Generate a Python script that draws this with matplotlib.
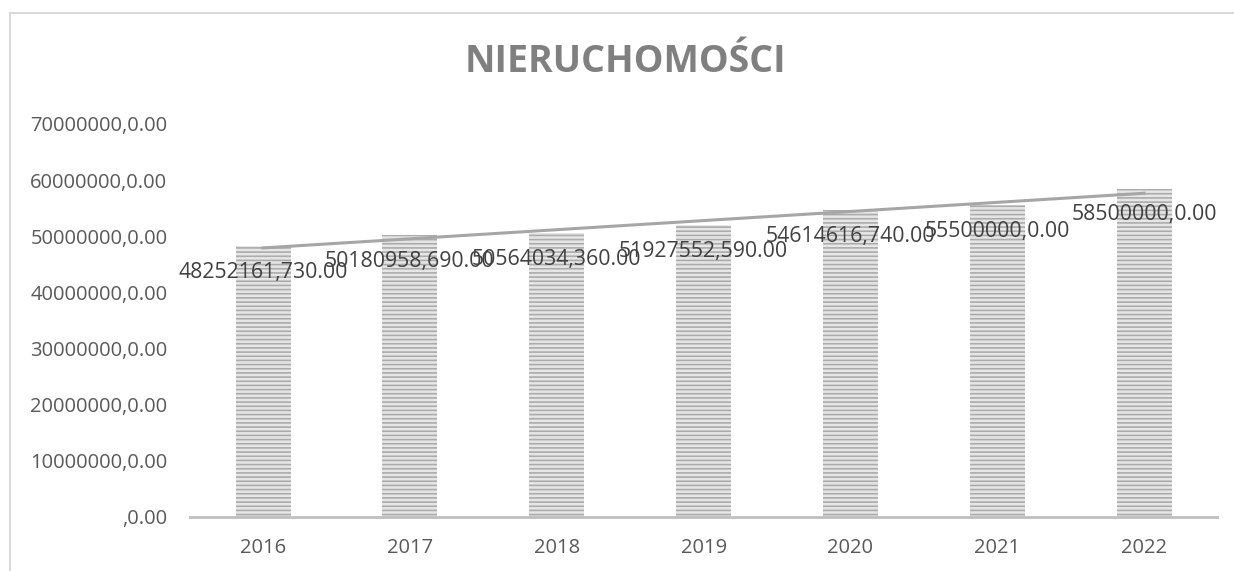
import matplotlib.pyplot as plt
import numpy as np
from matplotlib.patches import Rectangle

plt.rcParams['font.family'] = ['Open Sans', 'DejaVu Sans']
plt.rcParams['hatch.linewidth'] = 1.2

# data
years = ['2016', '2017', '2018', '2019', '2020', '2021', '2022']
values = [48252161.73, 50180958.69, 50564034.36, 51927552.59,
          54614616.74, 55500000.00, 58500000.00]
bar_labels = ['48252161,730.00', '50180958,690.00', '50564034,360.00',
              '51927552,590.00', '54614616,740.00', '55500000,0.00',
              '58500000,0.00']
yticks = [0, 10000000, 20000000, 30000000, 40000000, 50000000,
          60000000, 70000000]
ytick_labels = [',0.00', '10000000,0.00', '20000000,0.00', '30000000,0.00',
                '40000000,0.00', '50000000,0.00', '60000000,0.00',
                '70000000,0.00']

fig = plt.figure(figsize=(12.34, 5.71), dpi=100)
ax = fig.add_axes([0.1537, 0.0946, 0.8329, 0.6883])

x = np.arange(len(years))
ax.bar(x, values, width=0.375, color='#e6e6e6', edgecolor='#acacac',
       hatch='----', linewidth=0, zorder=2)

# linear trend line
k, b = np.polyfit(x, values, 1)
ax.plot(x[[0, -1]], k * x[[0, -1]] + b, color='#a6a6a6', lw=2.2, zorder=3)

for xi, v, lab in zip(x, values, bar_labels):
    ax.annotate(lab, (xi, v), xytext=(0, -19), textcoords='offset points',
                ha='center', va='center', fontsize=15.3, color='#404040',
                zorder=4)

ax.set_xlim(-0.5, 6.5)
ax.set_ylim(0, 70000000)
ax.set_xticks(x)
ax.set_xticklabels(years)
ax.set_yticks(yticks)
ax.set_yticklabels(ytick_labels)
ax.tick_params(axis='both', length=0, labelsize=14.5, labelcolor='#595959')
ax.tick_params(axis='y', pad=16)
ax.tick_params(axis='x', pad=15)
for s in ['top', 'right', 'left']:
    ax.spines[s].set_visible(False)
ax.spines['bottom'].set_color('#bfbfbf')
ax.spines['bottom'].set_linewidth(2)

fig.text(0.507, 0.892, 'NIERUCHOMOŚCI', ha='center', va='center',
         fontsize=27, fontweight='bold', color='#808080')

# chart area border
fig.add_artist(Rectangle((10 / 1234, -0.1), 1.2, (571 - 13) / 571 + 0.1,
                         transform=fig.transFigure, fill=False,
                         edgecolor='#d9d9d9', lw=1.5))

plt.savefig('out.png', dpi=100)
